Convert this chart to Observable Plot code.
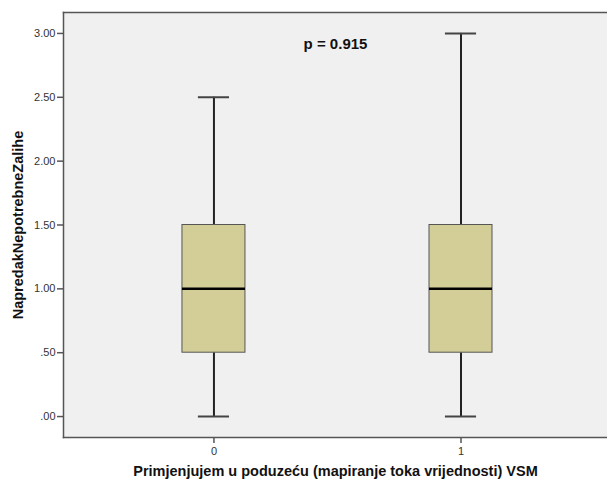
<!DOCTYPE html>
<html>
<head>
<meta charset="utf-8">
<script src="https://cdn.jsdelivr.net/npm/d3@7"></script>
<script src="https://cdn.jsdelivr.net/npm/@observablehq/plot@0.6"></script>
<style>
  html, body { margin: 0; padding: 0; background: white; }
  #chart svg { display: block; }
</style>
</head>
<body>
<div id="chart"></div>
<script>
// Data
const groups  = [0, 1];
const mins    = [0.0, 0.0];
const q1s     = [0.5, 0.5];
const medians = [1.0, 1.0];
const q3s     = [1.5, 1.5];
const maxs    = [2.5, 3.0];
const yTicks  = [0, 0.5, 1, 1.5, 2, 2.5, 3];
const xTickLabels = ["0", "1"];
const yLabel = "NapredakNepotrebneZalihe";
const xLabel = "Primjenjujem u poduzeću (mapiranje toka vrijednosti) VSM";
const pLabel = "p = 0.915";

const boxes = groups.map((g, i) => ({g, min: mins[i], q1: q1s[i], med: medians[i], q3: q3s[i], max: maxs[i]}));

const boxHalf = 0.1275;
const capHalf = 0.063;
const fmt = d => { const s = d3.format(".2f")(d); return s.startsWith("0") ? s.slice(1) : s; };

const chart = Plot.plot({
  width: 607,
  height: 485,
  marginTop: 12,
  marginBottom: 48,
  marginLeft: 63,
  marginRight: 0,
  style: {fontFamily: "Liberation Sans, Arial, sans-serif", fontSize: "11px", color: "#333", background: "white"},
  x: {domain: [-0.609, 1.593], axis: null},
  y: {domain: [-0.164, 3.164], axis: null},
  marks: [
    Plot.frame({fill: "#f0f0f0", stroke: "none"}),
    // whiskers
    Plot.ruleX(boxes, {x: "g", y1: "q3", y2: "max", stroke: "#222", strokeWidth: 2}),
    Plot.ruleX(boxes, {x: "g", y1: "min", y2: "q1", stroke: "#222", strokeWidth: 2}),
    Plot.ruleY(boxes, {y: "max", x1: d => d.g - capHalf, x2: d => d.g + capHalf, stroke: "#444", strokeWidth: 2}),
    Plot.ruleY(boxes, {y: "min", x1: d => d.g - capHalf, x2: d => d.g + capHalf, stroke: "#444", strokeWidth: 2}),
    // boxes
    Plot.rect(boxes, {x1: d => d.g - boxHalf, x2: d => d.g + boxHalf, y1: "q1", y2: "q3", fill: "#d3ce98", stroke: "#555", strokeWidth: 1}),
    Plot.ruleY(boxes, {y: "med", x1: d => d.g - boxHalf, x2: d => d.g + boxHalf, stroke: "#000", strokeWidth: 2.5}),
    // axes
    Plot.axisY(yTicks, {tickFormat: fmt, tickSize: 6, tickPadding: 2, stroke: "#555", strokeWidth: 1.5, fill: "#333", label: null}),
    Plot.axisX(groups, {tickFormat: (d, i) => xTickLabels[i], tickSize: 6, tickPadding: 4, stroke: "#555", strokeWidth: 1.5, fill: "#333", label: null}),
    Plot.frame({anchor: "left", stroke: "#555", strokeWidth: 1.5}),
    Plot.frame({anchor: "top", stroke: "#555", strokeWidth: 1.5}),
    Plot.frame({anchor: "bottom", stroke: "#555", strokeWidth: 1.5}),
    // labels
    Plot.text([pLabel], {frameAnchor: "top", dy: 26, fontSize: 15, fontWeight: "bold", fill: "#111"}),
    Plot.text([xLabel], {frameAnchor: "bottom", dy: 38, fontSize: 14.5, fontWeight: "bold", fill: "#111"}),
    Plot.text([yLabel], {frameAnchor: "left", textAnchor: "middle", dx: -45, rotate: -90, fontSize: 14.5, fontWeight: "bold", fill: "#111"})
  ]
});
document.getElementById("chart").appendChild(chart);
</script>
</body>
</html>
